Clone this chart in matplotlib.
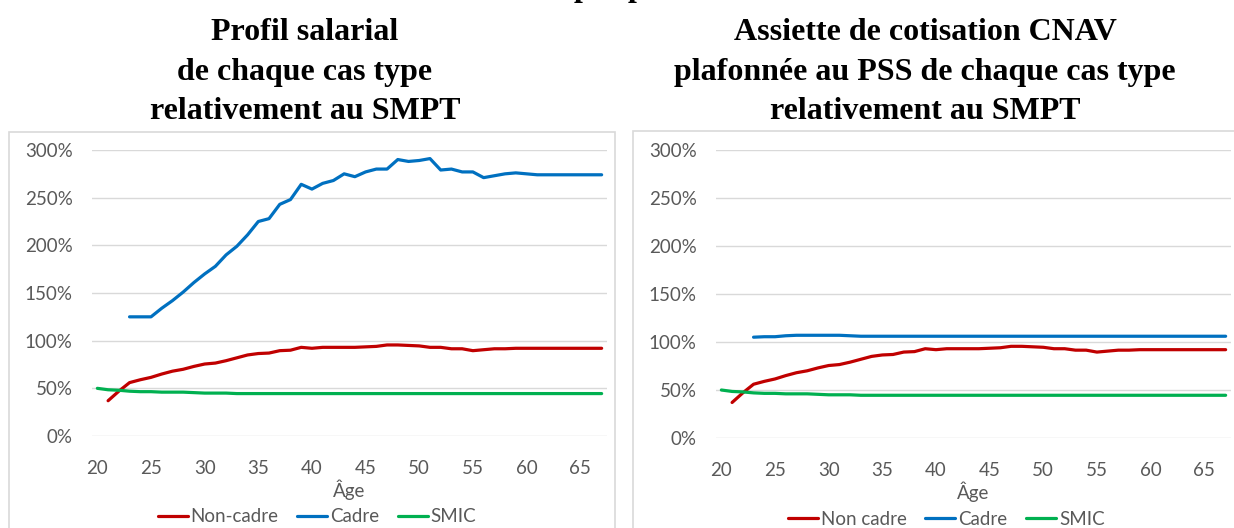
import numpy as np
import matplotlib.pyplot as plt
from matplotlib.patches import Rectangle

# ages on the category axis
ages = list(range(20, 68))

# left panel: salary profile / SMPT (in %)
smic = [50, 48.5, 48, 47, 46.5, 46.5, 46, 46, 46, 45.5, 45, 45, 45, 44.5] + [44.5] * 34
non_cadre = [37, 47, 56, 59, 61.5, 65, 68, 70, 73, 75.5, 76.5, 79, 82, 85, 86.5, 87,
             89.5, 90, 93, 92, 93, 93, 93, 93, 93.5, 94, 95.5, 95.5, 95, 94.5, 93, 93,
             91.5, 91.5, 89.5, 90.5, 91.5, 91.5, 92, 92, 92, 92, 92, 92, 92, 92, 92]
cadre = [125, 125, 125, 134, 142, 151, 161, 170, 178, 190, 199, 211, 225, 228, 243, 248,
         264, 259, 265, 268, 275, 272, 277, 280, 280, 290, 288, 289, 291, 279, 280, 277,
         277, 271, 273, 275, 276, 275, 274, 274, 274, 274, 274, 274, 274]

# right panel: CNAV base capped at PSS / SMPT (in %)
cadre_pss = [105, 105.5, 105.5, 106.5, 107, 107, 107, 107, 107, 106.5] + [106] * 35

titles = ["Profil salarial\nde chaque cas type\nrelativement au SMPT",
          "Assiette de cotisation CNAV\nplafonnée au PSS de chaque cas type\nrelativement au SMPT"]
legend_names = [["Non-cadre", "Cadre", "SMIC"], ["Non cadre", "Cadre", "SMIC"]]
yticks = [0, 50, 100, 150, 200, 250, 300]
xticks = list(range(20, 70, 5))

RED, BLUE, GREEN = "#C00000", "#0070C0", "#00B050"
GRID, TXT = "#D9D9D9", "#595959"

W, H = 1234, 528
fig = plt.figure(figsize=(W / 100, H / 100), dpi=100)
plt.rcParams["font.family"] = ["Lato", "DejaVu Sans"]


def px(x0, y_top, x1, y_bot):
    return [x0 / W, 1 - y_bot / H, (x1 - x0) / W, (y_bot - y_top) / H]


# chart borders (run off the bottom / right of the image)
fig.patches.append(Rectangle((9 / W, -0.05), (615 - 9) / W, 0.05 + 1 - 132 / H,
                             transform=fig.transFigure, fill=False, ec=GRID, lw=1.2))
fig.patches.append(Rectangle((633 / W, -0.05), 0.5, 0.05 + 1 - 131 / H,
                             transform=fig.transFigure, fill=False, ec=GRID, lw=1.2))

ax1 = fig.add_axes(px(92, 150, 607, 436))
ax2 = fig.add_axes(px(716, 150, 1231, 438))

series = [
    (non_cadre, cadre, smic),
    (non_cadre, cadre_pss, smic),
]
leg_x = [0.437, 0.447]

for i, ax in enumerate([ax1, ax2]):
    nc, ca, sm = series[i]
    l1, = ax.plot(ages[1:], nc, color=RED, lw=2.3, solid_capstyle="round")
    l2, = ax.plot(ages[3:], ca, color=BLUE, lw=2.3, solid_capstyle="round")
    l3, = ax.plot(ages, sm, color=GREEN, lw=2.3, solid_capstyle="round")
    ax.set_xlim(19.5, 67.5)
    ax.set_ylim(0, 300)
    ax.set_yticks(yticks)
    ax.set_yticklabels([f"{v}%" for v in yticks])
    ax.set_xticks(xticks)
    ax.grid(axis="y", color=GRID, lw=1)
    ax.set_axisbelow(True)
    for s in ax.spines.values():
        s.set_visible(False)
    ax.tick_params(length=0, labelsize=13.5, labelcolor=TXT)
    ax.tick_params(axis="x", pad=17)
    ax.tick_params(axis="y", pad=14)
    ax.set_xlabel("Âge", fontsize=13.5, color=TXT, labelpad=2)
    ax.legend([l1, l2, l3], legend_names[i], loc="center",
              bbox_to_anchor=(leg_x[i], -0.283), ncol=3, frameon=False,
              fontsize=13.5, labelcolor=TXT, handlelength=1.6, handletextpad=0.15,
              columnspacing=1.0, borderaxespad=0)

# titles
fig.text(305 / W, 1 - 18 / H, titles[0], ha="center", va="top", fontsize=23,
         family="Liberation Serif", weight="bold", linespacing=1.48)
fig.text(925 / W, 1 - 18 / H, titles[1], ha="center", va="top", fontsize=23,
         family="Liberation Serif", weight="bold", linespacing=1.48)

# bits of a heading that is cut off at the top edge
for xp in (582, 637):
    fig.text(xp / W, 1 + 4 / H, "p", ha="center", va="baseline", fontsize=23,
             family="Liberation Serif", weight="bold")

fig.savefig("out.png", dpi=100, facecolor="white")
